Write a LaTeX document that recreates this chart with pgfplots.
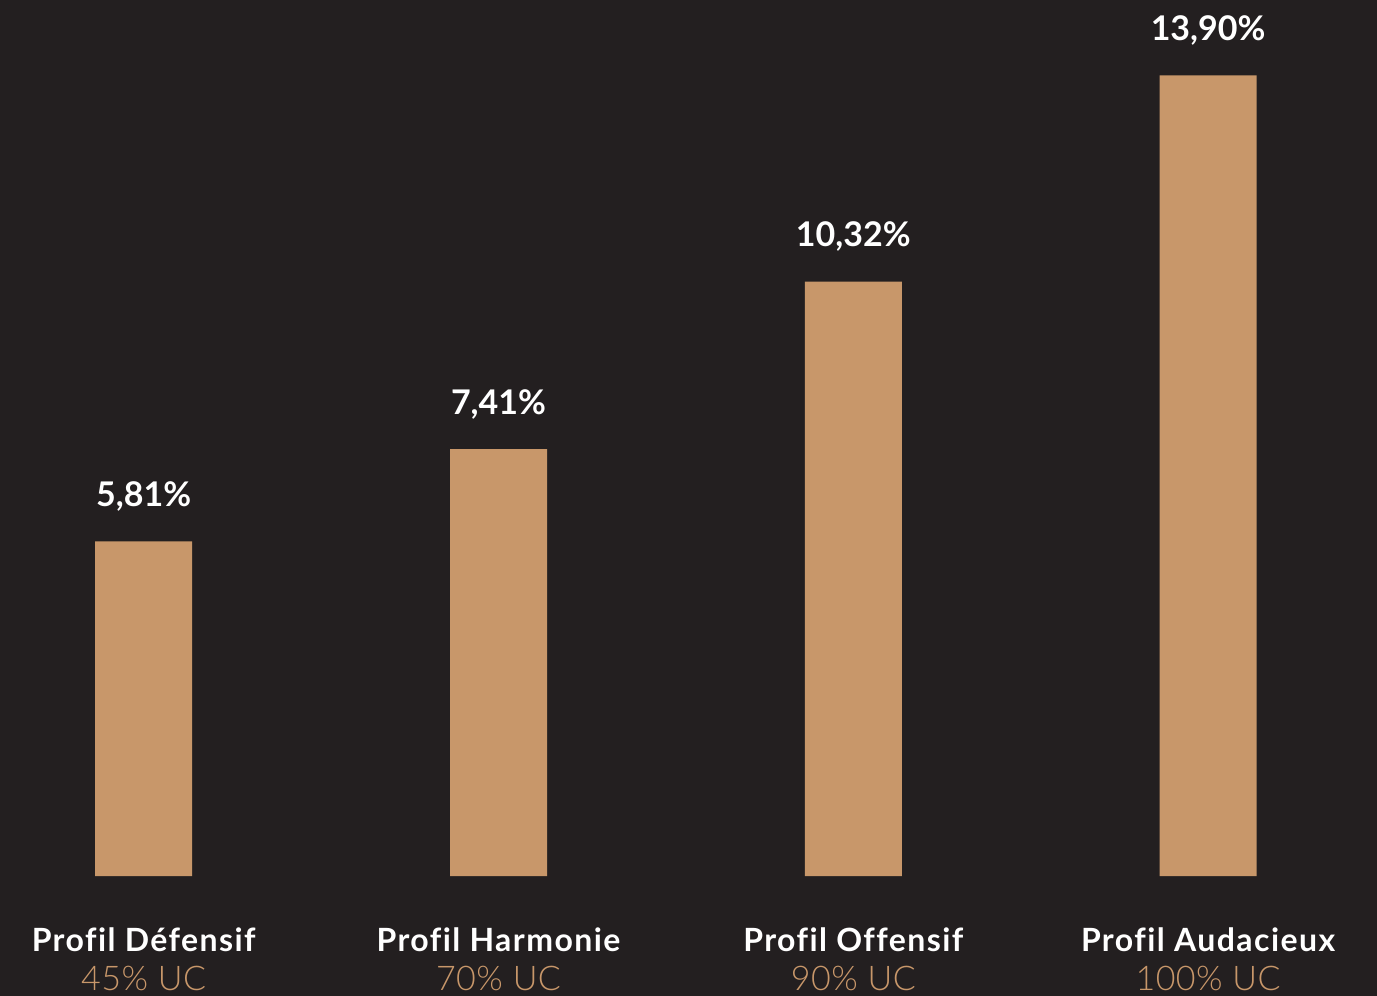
\documentclass[border=0pt]{standalone}
\usepackage{pgfplots}
\pgfplotsset{compat=1.18}
\usepackage{fontspec}
\setmainfont{Lato}
\newfontfamily\lightfont{Lato Light}[Ligatures=NoCommon, LetterSpace=1.5]
\newfontfamily\catfont{Lato}[Ligatures=NoCommon, LetterSpace=4.5]
\definecolor{bg}{HTML}{231F20}
\definecolor{barc}{HTML}{C8976A}
\begin{document}
\begin{tikzpicture}[x=1pt,y=1pt]
\useasboundingbox (0,0) rectangle (688.5,498);
\fill[bg] (0,0) rectangle (688.5,498);
\begin{scope}
\clip (0,0) rectangle (688.5,498);
\begin{axis}[
  at={(0,0)}, anchor=south west,
  scale only axis, width=688.5pt, height=498pt,
  xmin=-0.405, xmax=3.476, ymin=-2.083, ymax=15.208,
  axis lines=none, clip=false,
  ybar, bar width=48.5pt,
  nodes near coords,
  point meta=y,
  /pgf/number format/.cd, use comma, fixed, fixed zerofill, precision=2, assume math mode=true,
  /pgfplots/.cd,
  nodes near coords={\pgfmathprintnumber{\pgfplotspointmeta}\%},
  every node near coord/.append style={anchor=base, yshift=17.3pt, text=white,
     font=\fontsize{17}{20}\selectfont\bfseries, inner sep=0pt},
]
\addplot[fill=barc, draw=none] coordinates {(0,5.81) (1,7.41) (2,10.32) (3,13.90)};
\begin{scope}[every node/.style={anchor=base, inner sep=0pt}]
\node[text=white, font=\fontsize{16}{19}\selectfont\catfont\bfseries] at (axis cs:0,-1.319) {Profil Défensif};
\node[text=white, font=\fontsize{16}{19}\selectfont\catfont\bfseries] at (axis cs:1,-1.319) {Profil Harmonie};
\node[text=white, font=\fontsize{16}{19}\selectfont\catfont\bfseries] at (axis cs:2,-1.319) {Profil Offensif};
\node[text=white, font=\fontsize{16}{19}\selectfont\catfont\bfseries] at (axis cs:3,-1.319) {Profil Audacieux};
\node[text=barc, font=\fontsize{17}{20}\selectfont\lightfont] at (axis cs:0,-1.979) {45\% UC};
\node[text=barc, font=\fontsize{17}{20}\selectfont\lightfont] at (axis cs:1,-1.979) {70\% UC};
\node[text=barc, font=\fontsize{17}{20}\selectfont\lightfont] at (axis cs:2,-1.979) {90\% UC};
\node[text=barc, font=\fontsize{17}{20}\selectfont\lightfont] at (axis cs:3,-1.979) {100\% UC};
\end{scope}
\end{axis}
\end{scope}
\end{tikzpicture}
\end{document}
